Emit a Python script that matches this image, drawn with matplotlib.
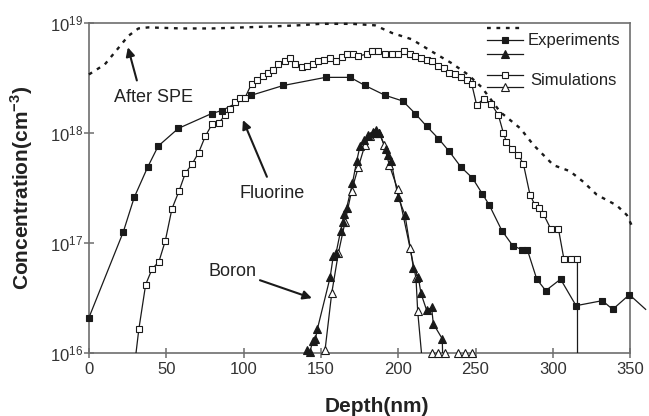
import matplotlib
matplotlib.use("Agg")
import matplotlib.pyplot as plt
from matplotlib.ticker import LogLocator, NullLocator

plt.rcParams["font.family"] = ["Liberation Sans", "DejaVu Sans"]
plt.rcParams["mathtext.fontset"] = "custom"
plt.rcParams["mathtext.rm"] = "Liberation Sans"
plt.rcParams["mathtext.bf"] = "Liberation Sans:bold"

# After SPE profile (dotted)
spe_depth = [0, 10.3, 19, 25.4, 32, 38.4, 60, 80, 100, 120, 135, 150, 170, 185,
             196, 208.7, 221.7, 234.6, 245, 254, 266, 279, 287.4, 300.4, 311,
             319.7, 328.4, 341.3, 347.8, 352]
spe_conc = [3.4e18, 4.2e18, 5.9e18, 7.6e18, 8.9e18, 9.1e18, 8.9e18, 8.9e18, 9.1e18,
            9.3e18, 9.5e18, 9.8e18, 9.8e18, 9.5e18, 8.1e18, 7.1e18, 5.5e18, 4.3e18,
            3.4e18, 2.6e18, 1.55e18, 1.1e18, 7.8e17, 5.1e17, 4.5e17, 3.6e17,
            2.75e17, 2.2e17, 1.8e17, 1.35e17]

# Fluorine, experiments (filled squares); last point is the line end past 350 nm
f_exp_depth = [0, 22.2, 29.3, 38, 44.8, 57.8, 79.3, 86, 105, 125.7, 153, 169, 178.5,
               191.5, 203, 211, 218.4, 226, 233, 240.6, 248, 254.4, 259, 267, 274,
               280, 283.5, 289.6, 295.4, 305, 315, 332, 338.7, 349.5, 360]
f_exp_conc = [2.1e16, 1.26e17, 2.6e17, 4.9e17, 7.6e17, 1.1e18, 1.5e18, 1.6e18, 2.2e18,
              2.7e18, 3.2e18, 3.2e18, 2.7e18, 2.2e18, 1.95e18, 1.5e18, 1.15e18, 8.9e17,
              6.8e17, 4.9e17, 3.9e17, 2.8e17, 2.2e17, 1.3e17, 9.5e16, 8.7e16, 8.7e16,
              4.7e16, 3.7e16, 4.7e16, 2.7e16, 3.0e16, 2.5e16, 3.4e16, 2.5e16]

# Fluorine, simulations (open squares); first and last points run off the axis
f_sim_depth = [22, 32.3, 36.7, 40.8, 45.3, 49.4, 53.7, 58.2, 62.3, 66.6, 70.9, 75.2,
               79.6, 83.9, 88, 91.2, 94.4, 97.7, 101, 105.2, 108.8, 112.3, 115.6,
               119.2, 122.5, 126.8, 130, 133.2, 137.6, 141, 145, 148.3, 152, 156,
               159.6, 163.4, 166.6, 170.5, 174.2, 179.6, 182.9, 187.1, 191.5, 195.8,
               200, 204, 207.6, 210.9, 214.7, 218.4, 222, 226, 229.6, 233, 236.7,
               240.4, 244.3, 247.5, 250.7, 255.5, 260, 264.8, 268, 270, 273.4, 277.7,
               281, 285.2, 288.5, 291.3, 293.8, 298.6, 303.6, 307.2, 311.6, 315.9, 316]
f_sim_conc = [1e15, 1.66e16, 4.2e16, 5.8e16, 6.8e16, 1.05e17, 2.05e17, 2.95e17, 4.3e17,
              5.2e17, 6.6e17, 9.3e17, 1.2e18, 1.23e18, 1.45e18, 1.66e18, 1.9e18, 2.1e18,
              2.1e18, 2.8e18, 3.0e18, 3.3e18, 3.5e18, 3.7e18, 4.2e18, 4.5e18, 4.8e18,
              4.2e18, 4.0e18, 4.1e18, 4.2e18, 4.5e18, 4.6e18, 4.8e18, 4.5e18, 4.9e18,
              5.2e18, 5.2e18, 5.0e18, 5.2e18, 5.6e18, 5.6e18, 5.2e18, 5.2e18, 5.2e18,
              5.6e18, 5.2e18, 5.0e18, 4.8e18, 4.6e18, 4.5e18, 4.1e18, 3.9e18, 3.5e18,
              3.4e18, 3.2e18, 3.0e18, 2.8e18, 1.8e18, 2.05e18, 1.85e18, 1.45e18, 1.0e18,
              8.3e17, 7.2e17, 6.3e17, 5.2e17, 2.75e17, 2.2e17, 2.1e17, 1.85e17, 1.35e17,
              1.35e17, 7.1e16, 7.1e16, 7.1e16, 1e15]

# Boron, experiments (filled triangles); last point runs off the axis
b_exp_depth = [141.2, 143, 144.7, 146.5, 147.7, 156, 158, 159.8, 162.8, 164, 165.2,
               166.7, 170.4, 173.2, 175.3, 177.9, 180.7, 183.5, 185.6, 187.8, 192,
               193.6, 195.3, 200, 204.4, 209.8, 213, 214.7, 218.4, 221.6, 222.7, 228.5,
               229.5]
b_exp_conc = [1.07e16, 1.03e16, 1.3e16, 1.35e16, 1.65e16, 4.9e16, 7.6e16, 8.1e16, 1.3e17,
              1.55e17, 1.85e17, 2.1e17, 3.5e17, 5.6e17, 7.6e17, 8.7e17, 9.5e17, 1.02e18,
              1.07e18, 1.0e18, 7.2e17, 6.3e17, 5.6e17, 2.6e17, 1.8e17, 6.0e16, 4.9e16,
              3.5e16, 2.45e16, 2.6e16, 1.85e16, 1.35e16, 3e15]

# Boron, simulations (open triangles); last point runs off the axis
b_sim_depth = [152.7, 157, 161.3, 165.6, 169.9, 174.2, 178.5, 181.8, 184.3, 187.8,
               190.8, 194.3, 199.6, 207.6, 211.5, 212.6, 217]
b_sim_conc = [1.07e16, 3.5e16, 8.1e16, 1.55e17, 3.0e17, 4.9e17, 7.8e17, 9.3e17, 1.0e18,
              1.0e18, 7.8e17, 5.1e17, 3.1e17, 9.1e16, 4.8e16, 2.4e16, 5e15]
# simulated boron points sitting on the lower limit
b_floor_depth = [221.6, 226, 230, 238.9, 243.2, 247.5]
b_floor_conc = [1e16, 1e16, 1e16, 1e16, 1e16, 1e16]

LINE = "#1a1a1a"
GREY = "#6e6e6e"
SPE_STYLE = (0, (1.6, 2.4))

fig = plt.figure(figsize=(6.49, 4.16), dpi=100)
ax = fig.add_axes([0.137, 0.151, 0.834, 0.794])
ax.set_yscale("log")


def series(depth, conc, marker, face, ms, clip=True, skip_first=False, skip_last=False):
    ax.plot(depth, conc, color=LINE, lw=0.9, clip_on=clip, zorder=3)
    lo = 1 if skip_first else 0
    hi = len(depth) - 1 if skip_last else len(depth)
    ax.plot(depth[lo:hi], conc[lo:hi], ls="none", marker=marker, ms=ms,
            mfc=face, mec=LINE, mew=0.8, clip_on=False, zorder=4)


ax.plot(spe_depth, spe_conc, color=LINE, lw=1.7, ls=SPE_STYLE, clip_on=False, zorder=3)
series(f_sim_depth, f_sim_conc, "s", "white", 5, skip_first=True, skip_last=True)
series(f_exp_depth, f_exp_conc, "s", LINE, 5, clip=False, skip_last=True)
series(b_sim_depth, b_sim_conc, "^", "white", 5.5, skip_last=True)
series(b_exp_depth, b_exp_conc, "^", LINE, 5.5, skip_last=True)
ax.plot(b_floor_depth, b_floor_conc, ls="none", marker="^", ms=5.5, mfc="white",
        mec=LINE, mew=0.8, clip_on=False, zorder=4)

ax.set_xlim(0, 350)
ax.set_ylim(1e16, 1e19)
ax.set_xticks(range(0, 351, 50))
ax.yaxis.set_major_locator(LogLocator(base=10, numticks=10))
ax.yaxis.set_minor_locator(NullLocator())

for sp in ax.spines.values():
    sp.set_color(GREY)
    sp.set_linewidth(1.2)
ax.tick_params(axis="both", direction="inout", length=7, width=1.1, color=GREY,
               labelsize=12, labelcolor="#333333")
ax.tick_params(axis="x", pad=3)
ax.tick_params(axis="y", pad=1)

ax.set_xlabel("Depth(nm)", fontsize=15, fontweight="bold", color="#222222")
ax.set_ylabel(r"Concentration(cm$^{\mathbf{-3}}$)", fontsize=15, fontweight="bold",
              color="#222222")
ax.xaxis.set_label_coords(0.532, -0.133)
ax.yaxis.set_label_coords(-0.10, 0.5)

arrow = dict(arrowstyle="-|>", color=LINE, lw=1.5, mutation_scale=13,
             shrinkA=0, shrinkB=0)
ax.annotate("", xy=(25.2, 6.0e18), xytext=(31, 3.0e18), arrowprops=arrow)
ax.text(41.6, 2.1e18, "After SPE", fontsize=13, ha="center", va="center", color="#222222")
ax.annotate("", xy=(99.6, 1.31e18), xytext=(115.1, 4.0e17), arrowprops=arrow)
ax.text(118.2, 2.83e17, "Fluorine", fontsize=13, ha="center", va="center", color="#222222")
ax.annotate("", xy=(144.2, 3.16e16), xytext=(110.6, 4.6e16), arrowprops=arrow)
ax.text(92.8, 5.5e16, "Boron", fontsize=13, ha="center", va="center", color="#222222")

# hand-placed legend, in axes fraction
hx0, hx1, hxc = 0.736, 0.802, 0.769
ax.plot([hx0, hx1], [0.985, 0.985], transform=ax.transAxes, color=LINE, lw=1.7,
        ls=SPE_STYLE, clip_on=False)
rows = [(0.948, "s", LINE, 5), (0.906, "^", LINE, 5.5),
        (0.842, "s", "white", 5), (0.806, "^", "white", 5.5)]
for yy, mk, face, ms in rows:
    ax.plot([hx0, hx1], [yy, yy], transform=ax.transAxes, color=LINE, lw=0.9, clip_on=False)
    ax.plot([hxc], [yy], transform=ax.transAxes, marker=mk, ms=ms, mfc=face, mec=LINE,
            mew=0.8, clip_on=False)
ax.text(0.81, 0.948, "Experiments", transform=ax.transAxes, fontsize=12, va="center",
        color="#222222")
ax.text(0.815, 0.827, "Simulations", transform=ax.transAxes, fontsize=12, va="center",
        color="#222222")

fig.savefig("out.png", dpi=100)
